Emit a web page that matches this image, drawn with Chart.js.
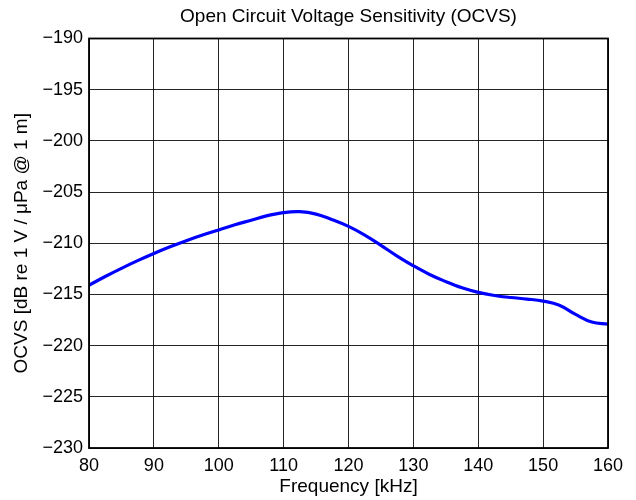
<!DOCTYPE html>
<html>
<head>
<meta charset="utf-8">
<script src="https://cdn.jsdelivr.net/npm/chart.js@4/dist/chart.umd.min.js"></script>
<style>
  html, body { margin:0; padding:0; background:#fff; }
  #wrap { width:636px; height:500px; }
</style>
</head>
<body>
<div id="wrap"><canvas id="c" width="636" height="500"></canvas></div>
<script>
// frequency in kHz
var FREQ = [80, 82.5, 85, 87.5, 90, 92.5, 95, 97.5, 100, 102.5, 105, 107.5, 110, 112.5, 115, 117.5,
            120, 122.5, 125, 127.5, 130, 132.5, 135, 137.5, 140, 142.5, 145, 147.5, 150, 152.5, 155, 157.5, 160];
var OCVS = [-214.1, -213.25, -212.45, -211.7, -211.0, -210.35, -209.75, -209.2, -208.7, -208.2, -207.75, -207.3,
            -207.0, -206.92, -207.15, -207.7, -208.35, -209.2, -210.2, -211.25, -212.2, -213.05, -213.75, -214.35,
            -214.8, -215.1, -215.3, -215.45, -215.65, -216.05, -216.95, -217.7, -217.9];
var X_TICKS = [80, 90, 100, 110, 120, 130, 140, 150, 160];
var Y_TICKS = [-230, -225, -220, -215, -210, -205, -200, -195, -190];

var FONT = "'Liberation Sans', Arial, Helvetica, sans-serif";

var pts = [];
for (var i = 0; i < FREQ.length; i++) pts.push({ x: FREQ[i], y: OCVS[i] });

function minus(v){ return String(v).replace("-", "\u2212"); }

// box around the plot + title centred over the plot box
var framePlugin = {
  id: "frame",
  afterLayout: function(chart){
    var a = chart.chartArea;
    if (chart.titleBlock) {
      chart.titleBlock.left = a.left;
      chart.titleBlock.right = a.right;
      chart.titleBlock.width = a.right - a.left;
    }
  },
  afterDatasetsDraw: function(chart){
    var a = chart.chartArea, ctx = chart.ctx;
    ctx.save();
    ctx.strokeStyle = "#000";
    ctx.lineWidth = 1.8;
    ctx.strokeRect(a.left, a.top, a.right - a.left, a.bottom - a.top);
    ctx.restore();
  }
};

new Chart(document.getElementById("c"), {
  type: "line",
  data: {
    datasets: [{
      data: pts,
      borderColor: "#0000ff",
      borderWidth: 3.2,
      pointRadius: 0,
      fill: false,
      tension: 0.4
    }]
  },
  options: {
    responsive: false,
    animation: false,
    layout: { padding: { left: 0, right: 28, top: 0, bottom: 0 } },
    plugins: {
      legend: { display: false },
      tooltip: { enabled: false },
      title: {
        display: true,
        text: "Open Circuit Voltage Sensitivity (OCVS)",
        color: "#000",
        font: { family: FONT, size: 19, weight: "normal" },
        padding: { top: 5.6, bottom: 10.1 }
      }
    },
    scales: {
      x: {
        type: "linear",
        min: 80, max: 160,
        afterBuildTicks: function(s){ s.ticks = X_TICKS.map(function(v){ return { value: v }; }); },
        afterFit: function(s){ s.height = 52; },
        ticks: { color: "#000", font: { family: FONT, size: 18 }, padding: 7, maxRotation: 0,
                 callback: function(v){ return minus(v); } },
        grid: { color: "rgba(0,0,0,0.85)", lineWidth: 1, drawTicks: false },
        border: { display: false },
        title: { display: true, text: "Frequency [kHz]", color: "#000",
                 font: { family: FONT, size: 19 }, padding: { top: 0, bottom: 2 } }
      },
      y: {
        type: "linear",
        min: -230, max: -190,
        afterBuildTicks: function(s){ s.ticks = Y_TICKS.map(function(v){ return { value: v }; }); },
        afterFit: function(s){ s.width = 89; },
        ticks: { color: "#000", font: { family: FONT, size: 18 }, padding: 6,
                 callback: function(v){ return minus(v); } },
        grid: { color: "rgba(0,0,0,0.85)", lineWidth: 1, drawTicks: false },
        border: { display: false },
        title: { display: true, text: "OCVS [dB re 1 V / \u03bcPa @ 1 m]", color: "#000",
                 font: { family: FONT, size: 19 }, padding: { top: 10, bottom: 0 } }
      }
    }
  },
  plugins: [framePlugin]
});
</script>
</body>
</html>
